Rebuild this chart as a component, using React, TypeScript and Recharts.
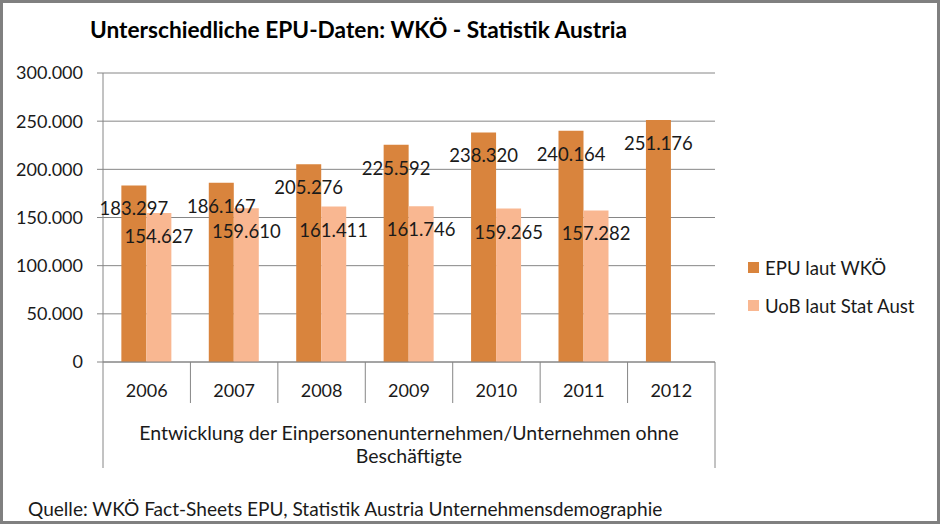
import React from 'react';
import { BarChart, Bar, XAxis, YAxis, CartesianGrid, LabelList } from 'recharts';

const years = ['2006', '2007', '2008', '2009', '2010', '2011', '2012'];
const epuWko = [183297, 186167, 205276, 225592, 238320, 240164, 251176];
const uobStat = [154627, 159610, 161411, 161746, 159265, 157282, null];
const yTicks = [0, 50000, 100000, 150000, 200000, 250000, 300000];

const seriesNames = ['EPU laut WKÖ', 'UoB laut Stat Aust'];
const seriesColors = ['#D9843D', '#F9B791'];

const data = years.map((year, i) => ({ year, epu: epuWko[i], uob: uobStat[i] }));

const W = 940;
const H = 524;
const PLOT_L = 103;
const PLOT_R = 715;
const PLOT_T = 73;
const PLOT_B = 362;
const BAND = (PLOT_R - PLOT_L) / years.length;

const FONT = 'Lato, "Open Sans", sans-serif';
const TEXT = '#1a1a1a';
const LINE = '#868686';

const fmt = (v: number) => String(v).replace(/\B(?=(\d{3})+(?!\d))/g, '.');

const renderLabel = (props: any) => {
  const { x, y, width, value } = props;
  if (value == null) return null;
  return (
    <text
      x={Number(x) + Number(width) / 2}
      y={Number(y) + 23}
      textAnchor="middle"
      dominantBaseline="central"
      fontFamily={FONT}
      fontSize={18.5}
      fill={TEXT}
    >
      {fmt(Number(value))}
    </text>
  );
};

const XTick = (props: any) => {
  const { x, y, payload, index } = props;
  return (
    <g>
      <text
        x={x}
        y={y + 28}
        textAnchor="middle"
        dominantBaseline="central"
        fontFamily={FONT}
        fontSize={18}
        fill={TEXT}
      >
        {payload.value}
      </text>
      {index > 0 && (
        <line x1={x - BAND / 2} x2={x - BAND / 2} y1={y} y2={y + 41} stroke={LINE} strokeWidth={1} />
      )}
    </g>
  );
};

export default function App() {
  return (
    <div style={{ position: 'absolute', left: 0, top: 0, width: W, height: H, background: '#fff' }}>
      <BarChart
        width={W}
        height={H}
        data={data}
        margin={{ top: PLOT_T, right: W - PLOT_R, bottom: 0, left: 0 }}
        barCategoryGap="21%"
        barGap={0}
      >
        <CartesianGrid vertical={false} stroke={LINE} />
        <YAxis
          width={PLOT_L}
          domain={[0, 300000]}
          ticks={yTicks}
          interval={0}
          tickFormatter={fmt}
          tickSize={6}
          tickMargin={14}
          stroke={LINE}
          tick={{ fontFamily: FONT, fontSize: 18, fill: TEXT }}
        />
        <XAxis
          dataKey="year"
          height={H - PLOT_B}
          interval={0}
          tickSize={0}
          tickMargin={0}
          tickLine={false}
          stroke={LINE}
          tick={<XTick />}
        />
        <Bar dataKey="epu" name={seriesNames[0]} fill={seriesColors[0]} isAnimationActive={false}>
          <LabelList dataKey="epu" content={renderLabel} />
        </Bar>
        <Bar dataKey="uob" name={seriesNames[1]} fill={seriesColors[1]} isAnimationActive={false}>
          <LabelList dataKey="uob" content={renderLabel} />
        </Bar>
      </BarChart>
      <svg
        width={W}
        height={H}
        style={{ position: 'absolute', left: 0, top: 0, pointerEvents: 'none' }}
      >
        <rect x={1.5} y={1.5} width={W - 3} height={H - 3} fill="none" stroke="#808080" strokeWidth={3} />
        <text x={90} y={29} dominantBaseline="central" fontFamily={FONT} fontWeight="bold" fontSize={22.7} fill="#000">
          Unterschiedliche EPU-Daten: WKÖ - Statistik Austria
        </text>
        <line x1={PLOT_L} x2={PLOT_L} y1={PLOT_B} y2={468} stroke={LINE} strokeWidth={1} />
        <line x1={PLOT_R} x2={PLOT_R} y1={PLOT_B} y2={468} stroke={LINE} strokeWidth={1} />
        <text x={(PLOT_L + PLOT_R) / 2} y={432} textAnchor="middle" dominantBaseline="central" fontFamily={FONT} fontSize={19.5} fill={TEXT}>
          Entwicklung der Einpersonenunternehmen/Unternehmen ohne
        </text>
        <text x={(PLOT_L + PLOT_R) / 2} y={455} textAnchor="middle" dominantBaseline="central" fontFamily={FONT} fontSize={19.5} fill={TEXT}>
          Beschäftigte
        </text>
        {seriesNames.map((name, i) => (
          <g key={name}>
            <rect x={748} y={262 + i * 38} width={11} height={11} fill={seriesColors[i]} />
            <text x={765} y={268 + i * 38} dominantBaseline="central" fontFamily={FONT} fontSize={18.6} fill={TEXT}>
              {name}
            </text>
          </g>
        ))}
        <text x={28} y={508} dominantBaseline="central" fontFamily={FONT} fontSize={19.1} fill={TEXT}>
          Quelle: WKÖ Fact-Sheets EPU, Statistik Austria Unternehmensdemographie
        </text>
      </svg>
    </div>
  );
}
